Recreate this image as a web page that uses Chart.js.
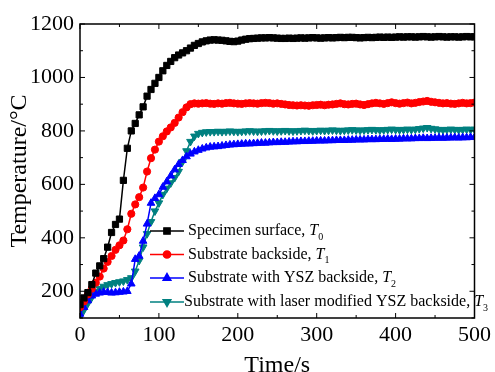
<!DOCTYPE html>
<html>
<head>
<meta charset="utf-8">
<script src="https://cdn.jsdelivr.net/npm/chart.js@4.4.1/dist/chart.umd.min.js"></script>
<style>
  body { margin: 0; background: #fff; }
  canvas { display: block; }
</style>
</head>
<body>
<canvas id="chart" width="495" height="372"></canvas>
<script>
// time axis, seconds
var times = [0,5,10,15,20,25,30,35,40,45,50,55,60,65,70,75,80,85,90,95,
  100,105,110,115,120,125,130,135,140,145,150,155,160,165,170,175,180,185,190,195,
  200,205,210,215,220,225,230,235,240,245,250,255,260,265,270,275,280,285,290,295,
  300,305,310,315,320,325,330,335,340,345,350,355,360,365,370,375,380,385,390,395,
  400,405,410,415,420,425,430,435,440,445,450,455,460,465,470,475,480,485,490,495,500];

// temperatures
var specimenSurface = [150,175,195,225,268,295,322,365,420,450,470,615,735,800,828,860,890,930,955,978,
  1000,1025,1045,1060,1074,1084,1092,1100,1110,1120,1127,1133,1137,1140,1141,1140,1139,1137,1135,1134,
  1136,1140,1143,1145,1146,1147,1148,1148,1149,1148,1147,1146,1146,1147,1146,1147,1148,1147,1148,1149,
  1148,1147,1148,1149,1148,1149,1150,1149,1150,1150,1149,1148,1149,1150,1149,1150,1151,1150,1151,1150,
  1151,1152,1151,1152,1152,1151,1152,1153,1152,1151,1152,1153,1152,1151,1152,1152,1151,1152,1153,1152,1152];

var substrateBack = [140,162,188,210,232,255,285,310,332,355,372,390,432,490,525,552,588,648,698,730,
  760,780,798,813,830,850,870,888,900,903,902,903,904,902,901,903,902,904,905,903,
  902,901,903,904,903,902,904,905,904,902,903,901,899,897,896,895,896,895,894,896,
  897,898,896,898,899,901,903,900,899,901,902,899,897,900,903,905,903,901,904,907,
  904,902,904,906,903,905,908,910,912,909,907,905,903,904,902,901,903,905,903,904,906];

var yszBack = [115,140,165,183,190,194,197,196,194,195,197,198,200,228,320,332,388,452,530,548,
  562,590,610,632,655,675,690,704,714,722,728,733,737,740,741,742,744,746,748,749,
  750,751,752,752,753,754,755,755,756,757,757,758,758,759,760,760,761,761,762,762,
  763,763,763,764,764,765,765,765,766,766,767,767,767,768,768,768,769,769,770,769,
  770,770,771,771,771,772,772,773,772,773,773,774,773,774,774,775,774,775,775,776,776];

var laserYszBack = [105,130,155,178,198,210,218,224,228,232,235,238,243,250,275,315,365,415,460,500,
  530,562,585,605,625,648,685,725,760,780,790,794,796,797,797,798,797,798,799,798,
  797,798,799,800,799,798,799,800,801,800,799,800,801,800,799,800,801,802,801,800,
  801,802,801,802,803,802,801,802,803,804,803,802,803,804,805,804,803,804,805,806,
  805,804,805,806,805,806,808,810,812,809,807,805,804,805,806,805,804,805,806,805,806];

var seriesNames = ["Specimen surface, ", "Substrate backside, ", "Substrate with YSZ backside, ", "Substrate with laser modified YSZ backside, "];
var subscripts = ["0", "1", "2", "3"];
var seriesColors = ["#000000", "#ff0000", "#0000ff", "#008080"];

var xTickValues = [0, 100, 200, 300, 400, 500];
var yTickValues = [200, 400, 600, 800, 1000, 1200];

var FONT = "'Liberation Serif', 'Times New Roman', serif";

function pairs(values) {
  return values.map(function (v, i) { return {x: times[i], y: v}; });
}

var markers = [
  {style: "rect", radius: 4.4, rotation: 0},
  {style: "circle", radius: 3.6, rotation: 0},
  {style: "triangle", radius: 4.4, rotation: 0},
  {style: "triangle", radius: 4.4, rotation: 180}
];
var allSeries = [specimenSurface, substrateBack, yszBack, laserYszBack];

var datasets = allSeries.map(function (values, i) {
  return {
    label: seriesNames[i] + "T" + subscripts[i],
    data: pairs(values),
    borderColor: seriesColors[i],
    backgroundColor: seriesColors[i],
    borderWidth: 1.5,
    pointStyle: markers[i].style,
    pointRadius: markers[i].radius,
    pointRotation: markers[i].rotation,
    pointBorderWidth: 1,
    tension: 0
  };
});

// box with inward ticks on all four sides
var frame = {
  id: "frame",
  afterDatasetsDraw: function (chart) {
    var ctx = chart.ctx, a = chart.chartArea;
    var x = chart.scales.x, y = chart.scales.y;
    ctx.save();
    ctx.strokeStyle = "#000";
    ctx.lineWidth = 1;
    ctx.beginPath();
    for (var v = 0; v <= 500; v += 50) {
      var px = x.getPixelForValue(v);
      var len = (v % 100 === 0) ? 5 : 3;
      ctx.moveTo(px, a.bottom); ctx.lineTo(px, a.bottom - len);
      ctx.moveTo(px, a.top); ctx.lineTo(px, a.top + len);
    }
    for (var w = 100; w <= 1200; w += 100) {
      var py = y.getPixelForValue(w);
      var l2 = (w % 200 === 0) ? 5 : 3;
      ctx.moveTo(a.left, py); ctx.lineTo(a.left + l2, py);
      ctx.moveTo(a.right, py); ctx.lineTo(a.right - l2, py);
    }
    ctx.stroke();
    ctx.lineWidth = 1.5;
    ctx.strokeRect(a.left, a.top, a.right - a.left, a.bottom - a.top);
    ctx.restore();
  }
};

// legend with italic T and subscript index
var legendBox = {
  id: "legendBox",
  afterDraw: function (chart) {
    var ctx = chart.ctx;
    var rows = [231, 254.5, 278, 302];
    ctx.save();
    for (var i = 0; i < 4; i++) {
      var yy = rows[i];
      ctx.strokeStyle = seriesColors[i];
      ctx.fillStyle = seriesColors[i];
      ctx.lineWidth = 1.5;
      ctx.beginPath();
      ctx.moveTo(150, yy); ctx.lineTo(184, yy);
      ctx.stroke();
      Chart.helpers.drawPoint(ctx, {pointStyle: markers[i].style, radius: markers[i].radius, rotation: markers[i].rotation, borderWidth: 1}, 167, yy);
      ctx.fill();
      ctx.fillStyle = "#000";
      ctx.textBaseline = "middle";
      ctx.font = "16px " + FONT;
      var tx = (i === 3) ? 184 : 188;
      ctx.fillText(seriesNames[i], tx, yy);
      tx += ctx.measureText(seriesNames[i]).width;
      ctx.font = "italic 16px " + FONT;
      ctx.fillText("T", tx, yy);
      tx += ctx.measureText("T").width;
      ctx.font = "10px " + FONT;
      ctx.fillText(subscripts[i], tx, yy + 6);
    }
    ctx.restore();
  }
};

new Chart(document.getElementById("chart").getContext("2d"), {
  type: "line",
  data: {datasets: datasets},
  plugins: [frame, legendBox],
  options: {
    responsive: false,
    animation: false,
    layout: {padding: {top: 24, right: 18, left: 0, bottom: 0}},
    plugins: {legend: {display: false}, tooltip: {enabled: false}},
    scales: {
      x: {
        type: "linear",
        min: 0, max: 500,
        afterBuildTicks: function (s) { s.ticks = xTickValues.map(function (v) { return {value: v}; }); },
        afterFit: function (s) { s.height = 54; },
        grid: {display: false, drawTicks: false},
        border: {display: false},
        ticks: {color: "#000", font: {family: FONT, size: 22}, padding: 4, maxRotation: 0,
          callback: function (v) { return String(v); }},
        title: {display: true, text: "Time/s", color: "#000", font: {family: FONT, size: 24}, padding: {top: 0, bottom: -8}}
      },
      y: {
        min: 100, max: 1200,
        afterBuildTicks: function (s) { s.ticks = yTickValues.map(function (v) { return {value: v}; }); },
        afterFit: function (s) { s.width = 80; },
        grid: {display: false, drawTicks: false},
        border: {display: false},
        ticks: {color: "#000", font: {family: FONT, size: 22}, padding: 6,
          callback: function (v) { return String(v); }},
        title: {display: true, text: "Temperature/\u00b0C", color: "#000", font: {family: FONT, size: 24}, padding: {top: 5, bottom: 0}}
      }
    }
  }
});
</script>
</body>
</html>
